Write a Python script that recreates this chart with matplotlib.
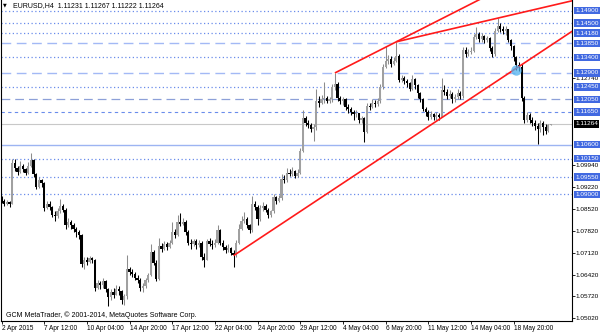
import matplotlib
matplotlib.use('Agg')
import matplotlib.pyplot as plt
import matplotlib.transforms as mtransforms

# ---------------- data ----------------
title_text = "EURUSD,H4  1.11231 1.11267 1.11222 1.11264"
copyright_text = "GCM MetaTrader, \u00a9 2001-2014, MetaQuotes Software Corp."

first_open = 1.0885
closes = [
    1.0878, 1.0870, 1.0875, 1.0868, 1.1000, 1.0985, 1.0972, 1.0990, 1.0980, 1.0970,
    1.0992, 1.1010, 1.0965, 1.0925, 1.0945, 1.0935, 1.0855, 1.0870, 1.0860, 1.0835,
    1.0830, 1.0845, 1.0862, 1.0850, 1.0800, 1.0812, 1.0800, 1.0790, 1.0778, 1.0770,
    1.0675, 1.0690, 1.0682, 1.0695, 1.0688, 1.0600, 1.0615, 1.0608, 1.0620, 1.0595,
    1.0570, 1.0585, 1.0578, 1.0595, 1.0588, 1.0560, 1.0572, 1.0660, 1.0650, 1.0645,
    1.0632, 1.0625, 1.0600, 1.0605, 1.0625, 1.0640, 1.0715, 1.0680, 1.0628, 1.0735,
    1.0725, 1.0740, 1.0730, 1.0745, 1.0780, 1.0770, 1.0810, 1.0805, 1.0812, 1.0780,
    1.0745, 1.0740, 1.0750, 1.0738, 1.0745, 1.0700, 1.0690, 1.0750, 1.0742, 1.0738,
    1.0745, 1.0785, 1.0745, 1.0730, 1.0720, 1.0728, 1.0712, 1.0705, 1.0745, 1.0790,
    1.0815, 1.0822, 1.0800, 1.0785, 1.0870, 1.0860, 1.0820, 1.0855, 1.0862, 1.0850,
    1.0835, 1.0845, 1.0890, 1.0880, 1.0888, 1.0950, 1.0945, 1.0970, 1.0965, 1.0975,
    1.0960, 1.0970, 1.1040, 1.1145, 1.1130, 1.1122, 1.1110, 1.1115, 1.1200, 1.1195,
    1.1205, 1.1210, 1.1200, 1.1205, 1.1245, 1.1255, 1.1210, 1.1200, 1.1205, 1.1180,
    1.1175, 1.1165, 1.1158, 1.1160, 1.1140, 1.1145, 1.1100, 1.1185, 1.1180, 1.1195,
    1.1190, 1.1200, 1.1245, 1.1310, 1.1330, 1.1335, 1.1320, 1.1330, 1.1345, 1.1268,
    1.1275, 1.1265, 1.1258, 1.1240, 1.1270, 1.1250, 1.1225, 1.1205, 1.1175, 1.1165,
    1.1150, 1.1158, 1.1148, 1.1155, 1.1150, 1.1235, 1.1230, 1.1215, 1.1222, 1.1205,
    1.1212, 1.1225, 1.1215, 1.1365, 1.1350, 1.1358, 1.1362, 1.1405, 1.1415, 1.1400,
    1.1408, 1.1395, 1.1402, 1.1370, 1.1350, 1.1425, 1.1440, 1.1432, 1.1425, 1.1430,
    1.1395, 1.1375, 1.1340, 1.1315, 1.1310, 1.1210, 1.1140, 1.1155, 1.1140, 1.1130,
    1.1120, 1.1110, 1.1128, 1.1115, 1.1105, 1.1123, 1.11264,
]
highs = [
    1.0895, 1.0884, 1.0882, 1.0880, 1.1015, 1.1012, 1.0992, 1.1008, 1.0998, 1.0985,
    1.1005, 1.1032, 1.1015, 1.0968, 1.0955, 1.0950, 1.0940, 1.0880, 1.0878, 1.0862,
    1.0845, 1.0855, 1.0885, 1.0870, 1.0855, 1.0825, 1.0818, 1.0808, 1.0795, 1.0785,
    1.0772, 1.0698, 1.0700, 1.0702, 1.0700, 1.0692, 1.0625, 1.0622, 1.0630, 1.0625,
    1.0600, 1.0595, 1.0600, 1.0610, 1.0605, 1.0592, 1.0580, 1.0705, 1.0668, 1.0660,
    1.0650, 1.0640, 1.0630, 1.0615, 1.0632, 1.0648, 1.0742, 1.0722, 1.0688, 1.0760,
    1.0745, 1.0750, 1.0748, 1.0752, 1.0812, 1.0790, 1.0835, 1.0840, 1.0825, 1.0818,
    1.0785, 1.0755, 1.0758, 1.0755, 1.0752, 1.0750, 1.0712, 1.0758, 1.0760, 1.0752,
    1.0755, 1.0802, 1.0790, 1.0752, 1.0738, 1.0740, 1.0732, 1.0720, 1.0752, 1.0805,
    1.0830, 1.0843, 1.0828, 1.0805, 1.0895, 1.0880, 1.0865, 1.0865, 1.0875, 1.0870,
    1.0855, 1.0850, 1.0902, 1.0895, 1.0898, 1.0965, 1.0962, 1.0985, 1.0982, 1.0988,
    1.0978, 1.0980, 1.1048, 1.1170, 1.1152, 1.1140, 1.1128, 1.1125, 1.1240, 1.1215,
    1.1220, 1.1260, 1.1215, 1.1212, 1.1255, 1.1290, 1.1262, 1.1215, 1.1212, 1.1208,
    1.1190, 1.1182, 1.1172, 1.1170, 1.1162, 1.1152, 1.1148, 1.1195, 1.1195, 1.1205,
    1.1202, 1.1210, 1.1255, 1.1320, 1.1375, 1.1348, 1.1345, 1.1342, 1.1390, 1.1352,
    1.1285, 1.1280, 1.1272, 1.1262, 1.1282, 1.1275, 1.1255, 1.1230, 1.1210, 1.1180,
    1.1170, 1.1168, 1.1162, 1.1165, 1.1160, 1.1275, 1.1250, 1.1240, 1.1235, 1.1228,
    1.1222, 1.1238, 1.1232, 1.1372, 1.1372, 1.1368, 1.1372, 1.1415, 1.1438, 1.1420,
    1.1418, 1.1412, 1.1410, 1.1405, 1.1375, 1.1435, 1.1468, 1.1450, 1.1440, 1.1442,
    1.1432, 1.1400, 1.1380, 1.1345, 1.1325, 1.1318, 1.1215, 1.1165, 1.1160, 1.1148,
    1.1140, 1.1130, 1.1140, 1.1135, 1.1125, 1.1125, 1.11267,
]
lows = [
    1.0872, 1.0862, 1.0865, 1.0860, 1.0868, 1.0975, 1.0962, 1.0968, 1.0972, 1.0962,
    1.0965, 1.0988, 1.0955, 1.0918, 1.0920, 1.0925, 1.0848, 1.0852, 1.0850, 1.0828,
    1.0815, 1.0825, 1.0840, 1.0842, 1.0790, 1.0795, 1.0788, 1.0778, 1.0762, 1.0758,
    1.0665, 1.0660, 1.0672, 1.0678, 1.0678, 1.0590, 1.0595, 1.0596, 1.0600, 1.0585,
    1.0540, 1.0560, 1.0568, 1.0575, 1.0578, 1.0548, 1.0545, 1.0565, 1.0640, 1.0635,
    1.0625, 1.0615, 1.0590, 1.0585, 1.0600, 1.0618, 1.0638, 1.0672, 1.0620, 1.0625,
    1.0715, 1.0722, 1.0720, 1.0728, 1.0740, 1.0760, 1.0765, 1.0798, 1.0800, 1.0770,
    1.0738, 1.0725, 1.0735, 1.0725, 1.0730, 1.0690, 1.0665, 1.0688, 1.0735, 1.0725,
    1.0730, 1.0740, 1.0738, 1.0722, 1.0712, 1.0715, 1.0705, 1.0665, 1.0700, 1.0740,
    1.0785, 1.0808, 1.0792, 1.0775, 1.0780, 1.0850, 1.0800, 1.0815, 1.0845, 1.0842,
    1.0825, 1.0828, 1.0840, 1.0870, 1.0875, 1.0882, 1.0935, 1.0940, 1.0958, 1.0960,
    1.0952, 1.0955, 1.0965, 1.1035, 1.1120, 1.1112, 1.1100, 1.1072, 1.1108, 1.1180,
    1.1190, 1.1195, 1.1192, 1.1195, 1.1198, 1.1235, 1.1200, 1.1190, 1.1188, 1.1170,
    1.1160, 1.1155, 1.1140, 1.1148, 1.1130, 1.1128, 1.1068, 1.1098, 1.1170, 1.1178,
    1.1180, 1.1185, 1.1195, 1.1240, 1.1305, 1.1320, 1.1310, 1.1315, 1.1325, 1.1260,
    1.1262, 1.1255, 1.1245, 1.1232, 1.1235, 1.1240, 1.1210, 1.1198, 1.1168, 1.1152,
    1.1140, 1.1142, 1.1138, 1.1140, 1.1138, 1.1148, 1.1218, 1.1205, 1.1208, 1.1195,
    1.1198, 1.1205, 1.1205, 1.1210, 1.1340, 1.1345, 1.1350, 1.1358, 1.1400, 1.1388,
    1.1390, 1.1385, 1.1388, 1.1362, 1.1342, 1.1345, 1.1420, 1.1420, 1.1415, 1.1412,
    1.1388, 1.1365, 1.1330, 1.1300, 1.1295, 1.1200, 1.1130, 1.1132, 1.1128, 1.1118,
    1.1108, 1.1062, 1.1100, 1.1092, 1.1095, 1.1100, 1.11222,
]
# forex H4 bars are gapless: each bar opens at the previous close
opens = [first_open] + closes[:-1]

x_tick_bars = [0, 16, 32, 48, 64, 80, 96, 112, 128, 144, 160, 176, 192]
x_tick_labels = ["2 Apr 2015", "7 Apr 12:00", "10 Apr 04:00", "14 Apr 20:00",
                 "17 Apr 12:00", "22 Apr 04:00", "24 Apr 20:00", "29 Apr 12:00",
                 "4 May 04:00", "6 May 20:00", "11 May 12:00", "14 May 04:00",
                 "18 May 20:00"]

axis_price_ticks = [1.12740, 1.09940, 1.09220, 1.08520, 1.07820,
                    1.07120, 1.06420, 1.05720, 1.05020]

level_prices = [1.14900, 1.14500, 1.14180, 1.13850, 1.13400, 1.12900, 1.12450,
                1.12050, 1.11650, 1.10600, 1.10150, 1.09550, 1.09000]
level_kinds = ["dot", "dot", "dot", "dash", "dot", "dash", "dot",
               "dash2", "short", "solid", "dot", "dot", "dot"]
bid_price = 1.11264

trend_lines = [((87, 1.0703), (193, 1.1305)),
               ((125, 1.1290), (148, 1.1390)),
               ((148, 1.1390), (186, 1.1466))]
highlight_point = (193, 1.1300)

# ---------------- figure ----------------
FONT = ["Liberation Sans", "DejaVu Sans"]
plt.rcParams["font.family"] = FONT

W, H = 600, 333
fig = plt.figure(figsize=(W / 100, H / 100), dpi=100)
ax_left, ax_right, ax_top, ax_bottom = 1, 572, 0, 321
ax = fig.add_axes([ax_left / W, (H - ax_bottom) / H,
                   (ax_right - ax_left) / W, (ax_bottom - ax_top) / H])

ax.set_xlim(-0.19, 213.9)
ax.set_ylim(1.04930, 1.15244)

style_map = {
    "dot": dict(color="#6a8ceb", lw=0.9, ls=(0, (1, 2))),
    "dash": dict(color="#a3b9f5", lw=1.0, ls=(0, (7, 4))),
    "dash2": dict(color="#8da0d8", lw=0.9, ls=(0, (7, 4))),
    "short": dict(color="#6a8ceb", lw=0.8, ls=(0, (3, 3))),
    "solid": dict(color="#9db4f2", lw=1.0, ls="-"),
}
for p, k in zip(level_prices, level_kinds):
    st = style_map[k]
    ax.axhline(p, color=st["color"], lw=st["lw"], ls=st["ls"], zorder=1)
ax.axhline(bid_price, color="#c8c8c8", lw=0.8, zorder=1)

# candles
bw = 0.8
for i, (o, h, l, c) in enumerate(zip(opens, highs, lows, closes)):
    bull = c >= o
    col = "#a0a0a0" if bull else "#000000"
    wcol = "#8c8c8c" if bull else "#000000"
    ax.vlines(i, l, h, color=wcol, lw=0.75, zorder=3)
    bot = min(o, c)
    ht = max(abs(c - o), 0.00014)
    ax.bar(i, ht, bottom=bot, width=bw, color=col, edgecolor="none", zorder=4)

# trend lines (rays extended to the right edge)
x_end = 214.5
for (x0, y0), (x1, y1) in trend_lines:
    slope = (y1 - y0) / (x1 - x0)
    ax.plot([x0, x_end], [y0, y0 + slope * (x_end - x0)], color="#ff1a1a",
            lw=1.2, zorder=5, solid_capstyle="butt")

ax.plot([highlight_point[0]], [highlight_point[1]], marker="o", ms=7.5,
        color="#4fb0ee", alpha=0.75, mec="none", zorder=6)

# spines
ax.spines["top"].set_visible(False)
for s in ["left", "right", "bottom"]:
    ax.spines[s].set_linewidth(0.8)
    ax.spines[s].set_color("black")

# x ticks
ax.set_xticks(x_tick_bars)
ax.set_xticklabels(x_tick_labels, fontsize=4.7, ha="left")
ax.tick_params(axis="x", direction="out", length=2, width=0.6, pad=1)

# y ticks on right
ax.yaxis.tick_right()
ax.set_yticks(axis_price_ticks)
ax.set_yticklabels(["%.5f" % v for v in axis_price_ticks], fontsize=4.6)
ax.tick_params(axis="y", direction="out", length=2, width=0.6, pad=0.8)

trans = mtransforms.blended_transform_factory(ax.transAxes, ax.transData)
for p in level_prices:
    ax.text(1.0058, p, "%.5f" % p, transform=trans, fontsize=4.6, color="white",
            va="center", ha="left", clip_on=False, zorder=10,
            bbox=dict(boxstyle="square,pad=0.2", fc="#4169e1", ec="none"))
ax.text(1.0058, bid_price, "%.5f" % bid_price, transform=trans, fontsize=4.6,
        color="white", va="center", ha="left", clip_on=False, zorder=10,
        bbox=dict(boxstyle="square,pad=0.2", fc="#000000", ec="none"))

# titles
ax.text(0.004, 0.985, "\u25bc", transform=ax.transAxes, fontsize=3.5,
        family="DejaVu Sans", va="center", ha="left")
ax.text(0.021, 0.984, title_text, transform=ax.transAxes, fontsize=5,
        va="center", ha="left")
ax.text(0.008, 0.018, copyright_text, transform=ax.transAxes, fontsize=5,
        va="center", ha="left")

fig.savefig("out.png", dpi=100)
